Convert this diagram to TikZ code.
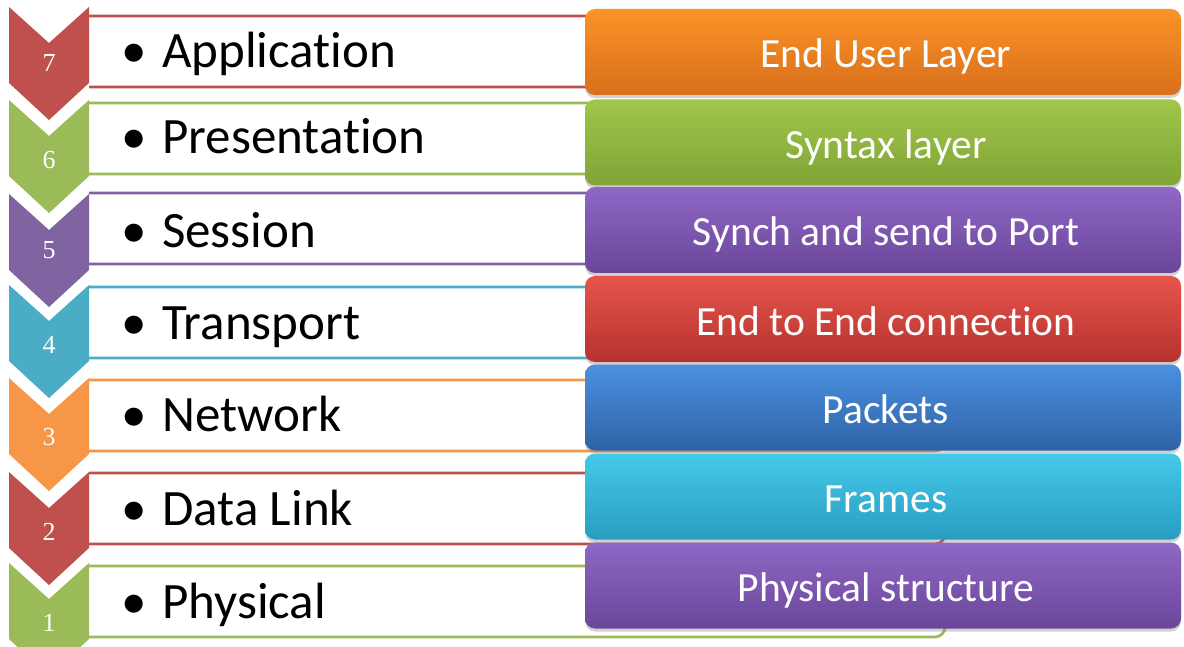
\documentclass[tikz,border=0pt]{standalone}
\usepackage{fontspec}
\setmainfont[Ligatures=NoCommon]{Carlito}
\newfontfamily\numfont{Liberation Serif}
\usetikzlibrary{shadows}

% layer colours (chevrons and bar outlines)
\definecolor{cred}{HTML}{C0504D}
\definecolor{cgreen}{HTML}{9BBB59}
\definecolor{cpurple}{HTML}{8064A2}
\definecolor{caqua}{HTML}{4BACC6}
\definecolor{corange}{HTML}{F79646}
% role boxes: light top / dark bottom
\definecolor{boT}{HTML}{FA9328}\definecolor{boB}{HTML}{D86F1B}
\definecolor{bgT}{HTML}{A0C64B}\definecolor{bgB}{HTML}{80A436}
\definecolor{bpT}{HTML}{8F67C6}\definecolor{bpB}{HTML}{6A4699}
\definecolor{brT}{HTML}{E6544B}\definecolor{brB}{HTML}{B6322F}
\definecolor{bbT}{HTML}{4C90E0}\definecolor{bbB}{HTML}{2E63A6}
\definecolor{bcT}{HTML}{45C9E9}\definecolor{bcB}{HTML}{289DC1}

\tikzset{
  layerbar/.style={draw=#1, line width=2.8pt, rounded corners=10pt},
  chevron/.style={fill=#1},
  numlabel/.style={text=white, inner sep=0pt, font=\numfont\fontsize{26}{26}\selectfont},
  layername/.style={anchor=base west, inner sep=0pt, text=black,
                    font=\fontsize{51}{51}\selectfont},
  rolebox/.style 2 args={rounded corners=10pt, minimum width=596pt, minimum height=86pt,
                    top color=#1, bottom color=#2, inner sep=0pt,
                    text=white, font=\fontsize{41.5}{41.5}\selectfont,
                    text height=36pt, text depth=4pt,
                    drop shadow={opacity=0.35, shadow xshift=0pt, shadow yshift=-3pt}},
}

\begin{document}
\begin{tikzpicture}[x=1pt,y=-1pt]
\useasboundingbox (0,0) rectangle (1184,647);
\clip (0,0) rectangle (1184,647);
\fill[white] (0,0) rectangle (1184,647);

% white bars with coloured outline, open on the left
\foreach \t/\col in {16/cred, 103/cgreen, 193/cpurple, 287/caqua, 380/corange, 473/cred, 566/cgreen}{
  \draw[layerbar=\col] (89,\t) -- (945,\t) -- (945,\t+71) -- (89,\t+71);
}

% chevrons pointing down, each with a notch on top
\foreach \y/\col in {7/cred, 100/cgreen, 194/cpurple, 285/caqua, 378/corange, 472/cred, 563/cgreen}{
  \fill[chevron=\col] (9,\y) -- (49,\y+36) -- (89,\y) -- (89,\y+76) -- (49,\y+113) -- (9,\y+76) -- cycle;
}

% layer numbers
\foreach \n/\y in {7/63, 6/160, 5/250, 4/345, 3/437, 2/532, 1/623}{
  \node[numlabel] (n\n) at (49,\y) {\n};
}

% layer names
\foreach \nm/\b [count=\i] in {Application/68, Presentation/154, Session/248, Transport/339,
                               Network/431, Data Link/525, Physical/618}{
  \node[layername] (name\i) at (121,\b) {\makebox[41pt][l]{•}\nm};
}

% role boxes
\node[rolebox={boT}{boB}] (r7) at (883,52)    {\hspace*{6pt}End User Layer};
\node[rolebox={bgT}{bgB}] (r6) at (883,142.5) {\hspace*{6pt}Syntax layer};
\node[rolebox={bpT}{bpB}] (r5) at (883,230)   {\hspace*{6pt}Synch and send to Port};
\node[rolebox={brT}{brB}] (r4) at (883,319)   {\hspace*{6pt}End to End connection};
\node[rolebox={bbT}{bbB}] (r3) at (883,407.5) {\hspace*{6pt}Packets};
\node[rolebox={bcT}{bcB}] (r2) at (883,496.5) {\hspace*{6pt}Frames};
\node[rolebox={bpT}{bpB}] (r1) at (883,585.5) {\hspace*{6pt}Physical structure};
\end{tikzpicture}
\end{document}
